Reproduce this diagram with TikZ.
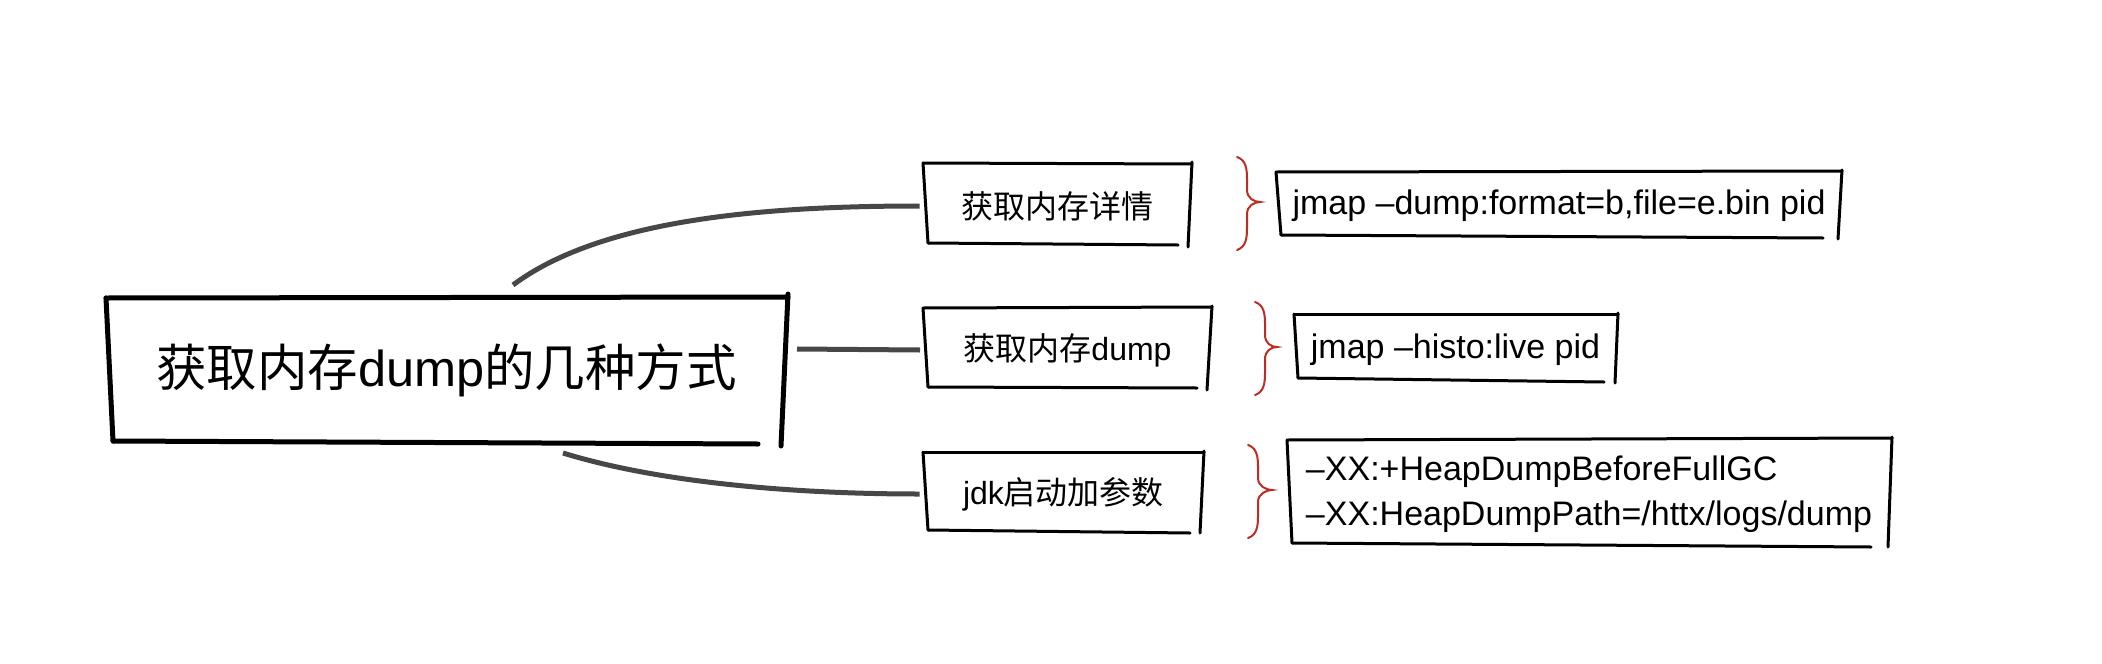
\documentclass[tikz,border=0pt]{standalone}
\usepackage{fontspec}
\setmainfont{Liberation Sans}
\newfontfamily\cjk{Noto Sans CJK SC}
\newcommand\redbrace[5]{%
  \draw[brc] (#1,#2) .. controls (#1+9,#2+3) and (#1+10,#2+12) .. (#1+10,#2+22)
    -- (#1+10,#4-12) .. controls (#1+10,#4-4) and (#5-6,#4) .. (#5,#4)
    .. controls (#5-6,#4) and (#1+10,#4+4) .. (#1+10,#4+12)
    -- (#1+10,#3-22) .. controls (#1+10,#3-12) and (#1+9,#3-3) .. (#1,#3);}
\begin{document}
\begin{tikzpicture}[x=1pt,y=-1pt,
  sk/.style={draw=black,line width=3pt,line cap=round,line join=round},
  skmain/.style={sk,line width=5pt},
  conn/.style={draw=black!72,line width=5pt},
  brc/.style={draw={rgb,255:red,190;green,45;blue,35},line width=2pt,line cap=round},
  boxnode/.style={inner sep=0pt,outer sep=0pt,align=center},
  subtxt/.style={boxnode,font=\fontsize{32}{38}\selectfont},
  cmdtxt/.style={boxnode,font=\fontsize{34}{45}\selectfont},
]
\fill[white] (0,0) rectangle (2102,664);
\useasboundingbox (0,0) rectangle (2102,664);

% nodes
\node[boxnode,minimum width=675,minimum height=145,font=\fontsize{50.5}{56}\selectfont] (main) at (446.5,370.5) {\raisebox{-4pt}{{\cjk 获取内存}dump{\cjk 的几种方式}}};
\node[subtxt,minimum width=265,minimum height=82] (sub1) at (1057,206) {{\cjk 获取内存详情}};
\node[subtxt,minimum width=285,minimum height=82] (sub2) at (1067.5,350) {{\cjk 获取内存}dump};
\node[subtxt,minimum width=278,minimum height=80] (sub3) at (1063.5,494) {jdk{\cjk 启动加参数}};
\node[cmdtxt,minimum width=562,minimum height=66] (cmd1) at (1559,206) {jmap –dump:format=b,file=e.bin pid};
\node[cmdtxt,minimum width=323,minimum height=68] (cmd2) at (1455.5,350) {jmap –histo:live pid};
\node[cmdtxt,minimum width=602,minimum height=106,align=left] (cmd3) at (1589,494) {–XX:+HeapDumpBeforeFullGC\\–XX:HeapDumpPath=/httx/logs/dump};

% sketchy outlines
\draw[skmain] (106,298) -- (788,297);
\draw[skmain] (788,294) -- (781,446);
\draw[skmain] (113,441) -- (758,444);
\draw[skmain] (106,298) -- (113,441);

\draw[sk] (923,163) -- (1192,164);
\draw[sk] (1192,162) -- (1188,247);
\draw[sk] (928,243) -- (1178,245);
\draw[sk] (923,163) -- (928,243);

\draw[sk] (923,308) -- (1212,307);
\draw[sk] (1212,306) -- (1207,390);
\draw[sk] (928,387) -- (1197,388);
\draw[sk] (923,308) -- (928,387);

\draw[sk] (923,452) -- (1204,452);
\draw[sk] (1204,451) -- (1200,533);
\draw[sk] (928,530) -- (1190,533);
\draw[sk] (923,452) -- (928,530);

\draw[sk] (1276,172) -- (1842,171);
\draw[sk] (1842,170) -- (1838,239);
\draw[sk] (1281,235) -- (1823,238);
\draw[sk] (1276,172) -- (1281,235);

\draw[sk] (1294,314) -- (1618,314);
\draw[sk] (1618,313) -- (1615,383);
\draw[sk] (1298,378) -- (1604,382);
\draw[sk] (1294,314) -- (1298,378);

\draw[sk] (1287,440) -- (1892,438);
\draw[sk] (1892,437) -- (1888,547);
\draw[sk] (1292,543) -- (1871,547);
\draw[sk] (1287,440) -- (1292,543);

% connectors
\draw[conn] ([shift={(66.5,-13)}]main.north) .. controls +(87,-65) and +(-160,0) .. ([xshift=-5pt]sub1.west);
\draw[conn] ([shift={(13,-21.5)}]main.east) -- ([xshift=-5pt]sub2.west);
\draw[conn] ([shift={(116.5,10)}]main.south) .. controls +(87,27) and +(-140,0) .. ([xshift=-5pt]sub3.west);

% braces
\redbrace{1237}{157}{250}{202}{1260}
\redbrace{1255}{302}{395}{347}{1277}
\redbrace{1248}{445}{538}{490}{1272}
\end{tikzpicture}
\end{document}
